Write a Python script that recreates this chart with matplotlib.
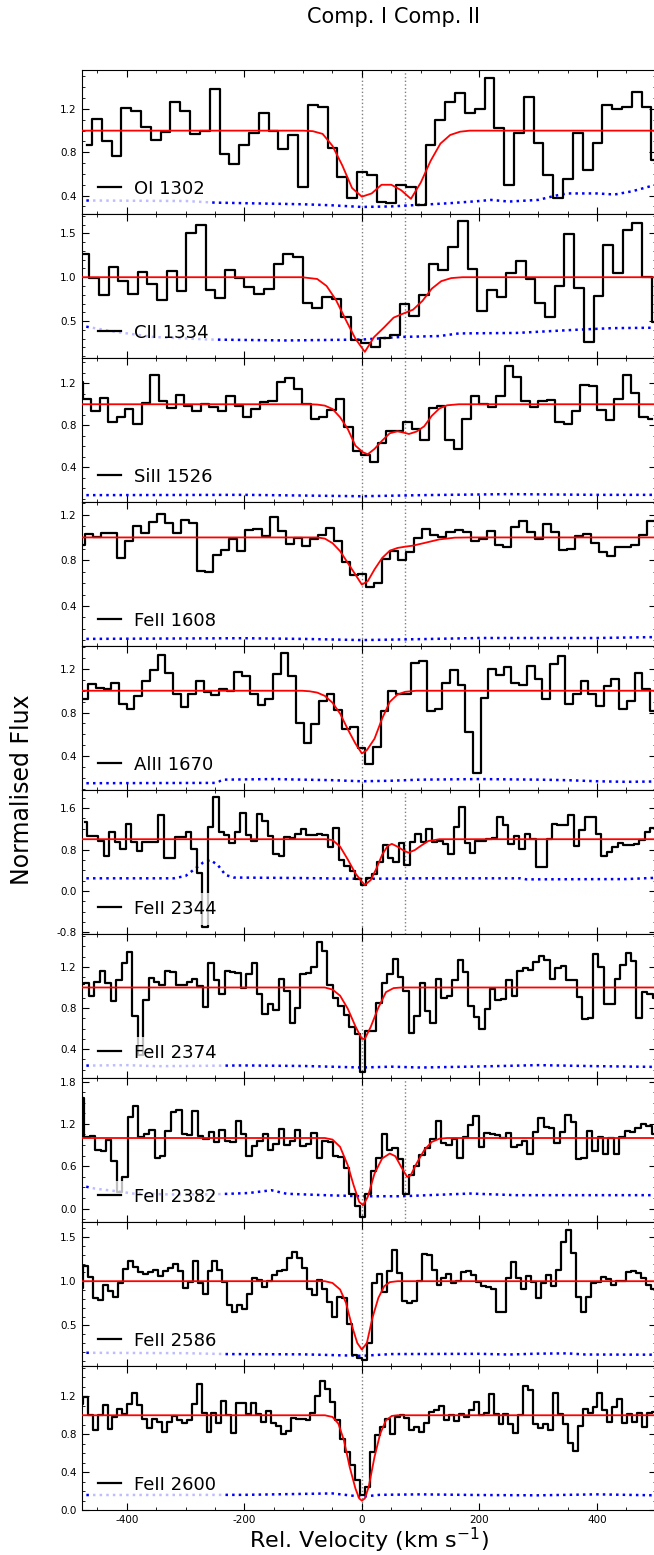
import numpy as np
import matplotlib.pyplot as plt
from matplotlib.ticker import MultipleLocator, AutoMinorLocator

plt.rcParams['axes.unicode_minus'] = False

# transition names, one per panel (top to bottom)
lines = ['OI 1302', 'CII 1334', 'SiII 1526', 'FeII 1608', 'AlII 1670',
         'FeII 2344', 'FeII 2374', 'FeII 2382', 'FeII 2586', 'FeII 2600']

# pixel grid: velocity of first pixel centre and pixel width (km/s)
pix_v0 = [-467.6, -472.0, -482.0, -478.5, -472.0, -471.7, -478.0, -485.8, -478.6, -479.0]
pix_dv = [16.7, 16.5, 14.35, 13.68, 13.09, 9.3, 9.22, 9.19, 8.47, 8.42]

# normalised flux
flux_oi1302 = [0.87, 1.11, 0.90, 0.77, 1.21, 1.18, 1.03, 0.91, 0.985, 1.26, 1.18, 0.97, 1.0, 1.38,
               0.78, 0.69, 0.87, 0.98, 1.16, 1.0, 0.83, 0.96, 0.48, 1.24, 1.22, 0.84, 0.57, 0.38,
               0.62, 0.59, 0.34, 0.33, 0.50, 0.48, 0.31, 0.87, 1.10, 1.26, 1.35, 1.16, 1.20, 1.49,
               1.02, 0.50, 0.98, 1.31, 0.89, 0.59, 0.38, 0.55, 0.98, 0.64, 0.89, 1.24, 1.20, 1.22,
               1.36, 1.22, 0.73]
flux_cii1334 = [1.27, 0.99, 0.80, 1.12, 0.955, 0.81, 1.06, 0.92, 0.74, 1.07, 0.84, 1.50, 1.60,
                0.86, 0.76, 1.08, 0.99, 0.89, 0.81, 0.87, 1.15, 1.27, 1.23, 0.71, 0.65, 0.78,
                0.75, 0.55, 0.28, 0.255, 0.205, 0.31, 0.34, 0.70, 0.555, 0.80, 1.155, 1.08, 1.34,
                1.64, 1.095, 0.62, 0.85, 0.78, 1.05, 1.18, 0.98, 0.71, 0.545, 0.90, 1.49, 0.875,
                0.26, 0.79, 1.37, 1.05, 1.54, 1.62, 1.0, 0.49]
flux_siii1526 = [1.216, 1.048, 0.936, 1.06, 0.835, 0.876, 0.955, 0.816, 1.016, 1.28, 1.03, 0.965,
                 1.09, 0.98, 0.936, 1.003, 0.97, 0.936, 1.076, 0.987, 0.876, 0.955, 1.02, 1.035,
                 1.21, 1.25, 1.146, 1.003, 0.86, 0.876, 0.946, 1.05, 0.784, 0.552, 0.517, 0.448,
                 0.632, 0.75, 0.75, 0.83, 0.76, 0.657, 0.965, 0.98, 0.66, 0.575, 0.86, 1.083,
                 1.003, 0.97, 1.076, 1.36, 1.26, 1.03, 0.97, 1.03, 1.044, 0.835, 0.81, 0.94,
                 1.187, 1.178, 0.946, 0.854, 1.05, 1.28, 1.11, 0.88, 0.86]
flux_feii1608 = [0.937, 1.033, 1.0, 1.04, 1.04, 0.82, 0.966, 1.097, 1.04, 1.135, 1.207, 1.13,
                 1.04, 1.15, 1.126, 0.71, 0.70, 0.85, 0.893, 0.99, 0.88, 1.068, 1.076, 1.015,
                 1.18, 1.06, 0.945, 0.995, 0.928, 0.99, 1.024, 1.08, 0.966, 0.783, 0.675, 0.68,
                 0.567, 0.60, 0.815, 0.878, 0.806, 0.873, 0.995, 1.073, 1.024, 1.0, 1.047, 1.068,
                 1.044, 0.97, 0.99, 1.056, 0.937, 0.916, 1.094, 1.14, 1.047, 0.99, 1.117, 1.047,
                 0.893, 0.90, 1.015, 1.03, 0.951, 0.873, 0.84, 0.913, 0.913, 0.937, 1.024, 1.14,
                 1.25]
flux_alii1670 = [0.92, 1.06, 1.026, 1.02, 1.075, 0.88, 0.837, 0.953, 1.087, 1.188, 1.33, 1.166,
                 0.974, 0.852, 0.968, 1.093, 0.99, 0.965, 1.02, 1.0, 1.172, 1.133, 0.974, 0.873,
                 0.928, 1.154, 1.347, 1.136, 0.705, 0.525, 0.696, 0.904, 0.971, 0.82, 0.653, 0.665,
                 0.476, 0.33, 0.482, 0.812, 1.0, 0.968, 0.968, 1.255, 1.27, 0.818, 0.837, 1.072,
                 1.188, 1.05, 0.623, 0.247, 0.934, 1.203, 1.148, 1.221, 1.075, 1.056, 1.23, 1.105,
                 0.928, 1.246, 1.316, 0.882, 0.974, 1.09, 0.974, 0.858, 1.04, 1.11, 0.83, 0.907,
                 1.163, 1.014, 0.812]
flux_feii2344 = [1.34, 1.06, 1.06, 0.965, 0.68, 1.14, 0.95, 0.81, 1.29, 0.946, 0.77, 0.946, 0.946,
                 0.946, 1.46, 0.64, 0.64, 1.05, 1.05, 1.13, 0.82, 0.34, -0.70, 1.23, 1.82, 1.145,
                 1.09, 0.92, 1.145, 1.51, 1.09, 0.965, 1.48, 1.36, 1.06, 0.714, 0.68, 1.05, 1.02,
                 1.11, 1.19, 1.09, 1.09, 1.10, 1.08, 0.84, 1.21, 0.60, 0.49, 0.386, 0.23, 0.116,
                 0.245, 0.32, 0.566, 0.88, 0.64, 0.566, 0.92, 0.50, 0.95, 1.11, 0.946, 1.19, 0.946,
                 0.965, 0.90, 0.714, 1.23, 1.615, 0.933, 0.74, 0.965, 0.97, 1.0, 1.02, 1.42, 1.27,
                 0.91, 1.06, 0.82, 1.11, 1.0, 0.47, 0.47, 1.0, 1.30, 1.28, 1.28, 1.47, 0.875, 1.18,
                 1.42, 1.42, 1.10, 0.68, 0.76, 0.855, 0.933, 0.89, 0.88, 0.90, 0.985, 1.145, 1.21]
flux_feii2374 = [1.03, 1.04, 0.913, 1.05, 1.165, 1.04, 0.865, 1.068, 1.235, 1.342, 0.723, 0.34,
                 0.874, 1.097, 1.058, 1.026, 1.165, 1.148, 1.02, 1.02, 1.05, 1.084, 1.01, 0.81,
                 1.235, 1.074, 0.932, 1.158, 1.148, 1.14, 0.994, 1.132, 1.24, 0.94, 0.74, 0.835,
                 0.784, 1.084, 0.97, 0.65, 0.80, 1.132, 1.142, 1.197, 1.445, 1.352, 1.02, 0.90,
                 0.82, 0.73, 0.62, 0.55, 0.18, 0.58, 0.58, 0.85, 1.04, 1.13, 1.28, 1.10, 0.97,
                 0.56, 0.72, 1.04, 0.77, 0.65, 1.084, 0.897, 0.92, 1.074, 1.27, 1.148, 0.816,
                 0.713, 0.60, 0.794, 0.987, 0.874, 0.89, 1.074, 0.913, 1.158, 1.187, 1.171, 1.245,
                 1.303, 1.268, 1.084, 1.19, 1.206, 1.074, 1.068, 0.906, 0.697, 0.706, 1.326, 1.197,
                 0.842, 0.835, 1.084, 1.222, 1.335, 1.255, 0.70, 0.96, 0.94, 0.90]
flux_feii2382 = [1.78, 1.56, 1.02, 1.03, 0.83, 0.81, 0.97, 0.68, 0.24, 0.45, 1.30, 1.45, 1.02,
                 1.05, 1.12, 0.71, 0.74, 1.10, 1.37, 1.40, 1.05, 1.04, 1.38, 1.03, 0.99, 1.08,
                 0.95, 1.12, 0.96, 0.95, 1.24, 1.06, 0.74, 0.88, 0.96, 1.05, 0.83, 0.92, 1.13,
                 0.90, 0.96, 1.12, 0.88, 0.92, 1.07, 0.72, 0.96, 0.95, 0.74, 0.73, 0.57, 0.20,
                 0.04, -0.12, 0.21, 0.53, 0.71, 1.06, 0.83, 0.86, 0.70, 0.21, 0.48, 0.60, 0.76,
                 0.86, 0.98, 1.24, 0.93, 0.90, 0.98, 0.72, 1.01, 1.19, 1.31, 0.87, 1.07, 1.06,
                 1.04, 1.00, 1.07, 0.87, 0.90, 0.96, 0.77, 1.08, 1.28, 1.15, 1.14, 0.93, 1.09,
                 1.32, 1.23, 0.70, 0.72, 1.10, 0.82, 1.01, 0.78, 1.0, 0.78, 1.01, 1.10, 1.08,
                 1.14, 1.20, 1.17, 1.05, 0.73]
flux_feii2586 = [0.925, 1.17, 1.045, 0.81, 0.79, 0.955, 0.894, 0.826, 0.974, 1.14, 1.234, 1.158,
                 1.106, 1.083, 1.10, 1.132, 1.057, 1.113, 1.15, 1.20, 1.113, 0.925, 0.989, 1.234,
                 0.98, 0.86, 1.12, 1.226, 1.132, 0.989, 0.728, 0.653, 0.728, 0.687, 0.86, 1.038,
                 1.011, 0.936, 1.0, 1.075, 1.113, 1.125, 1.264, 1.328, 1.264, 1.15, 0.917, 0.849,
                 1.011, 0.913, 0.766, 0.592, 0.819, 0.81, 0.51, 0.17, 0.125, 0.113, 0.30, 0.98,
                 1.083, 0.879, 1.12, 1.358, 1.094, 0.774, 0.755, 0.781, 1.0, 1.31, 1.302, 1.132,
                 0.962, 1.038, 1.087, 0.98, 1.0, 1.106, 1.12, 1.075, 0.992, 0.943, 0.932, 0.906,
                 0.649, 0.649, 1.038, 1.219, 1.038, 0.913, 1.057, 0.989, 0.81, 0.98, 1.068, 0.951,
                 1.132, 1.445, 1.585, 1.32, 0.819, 0.649, 0.819, 0.98, 0.992, 1.049, 1.026, 0.962,
                 1.0, 1.0, 1.106, 1.113, 1.094, 1.038, 0.962, 0.917, 0.879]
flux_feii2600 = [1.116, 1.193, 1.007, 0.842, 1.007, 1.105, 0.853, 0.982, 1.063, 1.01, 1.123, 1.235,
                 1.105, 0.965, 0.87, 0.958, 0.93, 0.825, 0.93, 0.99, 0.954, 0.919, 0.954, 1.116,
                 1.326, 1.028, 0.825, 1.028, 0.919, 1.15, 1.007, 0.818, 1.13, 1.13, 1.018, 1.13,
                 1.018, 0.93, 1.042, 0.919, 0.884, 0.807, 0.835, 0.972, 0.961, 0.965, 0.954, 1.025,
                 1.20, 1.36, 1.28, 1.14, 0.947, 0.754, 0.614, 0.474, 0.316, 0.158, 0.246, 0.614,
                 0.79, 0.877, 0.965, 0.807, 0.982, 1.0, 0.972, 0.842, 0.877, 0.825, 0.919, 1.035,
                 1.06, 1.095, 0.947, 1.007, 0.937, 1.018, 0.982, 1.06, 1.14, 1.007, 1.028, 1.228,
                 1.018, 0.912, 1.018, 0.912, 0.814, 1.007, 1.305, 1.263, 0.912, 0.87, 0.912, 0.849,
                 1.235, 1.018, 0.912, 0.709, 0.621, 0.884, 1.07, 1.028, 1.088, 1.235, 1.053, 0.93,
                 1.088, 1.168, 0.919, 1.018, 0.93, 1.025, 0.877, 1.025, 1.035]

flux = [flux_oi1302, flux_cii1334, flux_siii1526, flux_feii1608, flux_alii1670,
        flux_feii2344, flux_feii2374, flux_feii2382, flux_feii2586, flux_feii2600]

# fitted model profiles (velocity, flux)
model_v = [
    [-480, -100, -83.5, -66.8, -50.1, -33.4, -16.7, 0, 16.7, 33.4, 50.1, 66.8, 83.5, 100.2, 116.9, 133.6, 150.3, 167, 183.7, 500],
    [-480, -102, -76, -60, -44, -27, -11, 5, 21, 38, 54, 70, 87, 103, 119, 135, 152, 171, 500],
    [-480, -89, -76, -63, -50, -37, -24, -11, 2, 10, 21.5, 34.5, 47.5, 60.6, 73.6, 80, 93, 106, 119, 132, 145, 165, 500],
    [-480, -76, -63, -50, -37, -24, -11, 0, 10, 21.5, 34.5, 47.5, 60.6, 73.6, 86.6, 106, 132, 158, 184, 500],
    [-480, -102, -89, -76, -63, -50, -37, -24, -11, 0, 8.5, 21.5, 34.5, 47.5, 60.6, 73.6, 93, 500],
    [-480, -63, -50, -37, -24, -11, 0, 5, 15, 25, 34.5, 44, 51, 60.6, 70, 79, 90, 100, 113, 132, 500],
    [-480, -63, -50, -37, -24, -11, 0, 5, 15, 28, 41, 54, 67, 500],
    [-480, -63, -50, -37, -24, -14, -4.6, 2, 10, 21.5, 34.5, 47.5, 57, 67, 77, 83, 93, 106, 119, 132, 145, 500],
    [-480, -76, -63, -50, -37, -27, -17.6, -7.8, 0, 8.5, 18, 28, 38, 47.5, 60.6, 500],
    [-480, -76, -63, -50, -40, -30.6, -20.8, -11, -4.6, 0, 5.2, 11.7, 21.5, 31.3, 41, 51, 60.6, 500],
]
model_f = [
    [1.0, 1.0, 0.995, 0.97, 0.86, 0.68, 0.47, 0.39, 0.42, 0.50, 0.50, 0.45, 0.37, 0.52, 0.72, 0.88, 0.96, 0.99, 1.0, 1.0],
    [1.0, 1.0, 0.98, 0.90, 0.74, 0.51, 0.30, 0.15, 0.32, 0.43, 0.54, 0.585, 0.63, 0.73, 0.87, 0.955, 0.99, 1.0, 1.0],
    [1.0, 1.0, 0.997, 0.987, 0.955, 0.876, 0.765, 0.606, 0.543, 0.524, 0.575, 0.654, 0.724, 0.743, 0.727, 0.717, 0.74, 0.79, 0.89, 0.96, 0.99, 1.0, 1.0],
    [1.0, 1.0, 0.99, 0.95, 0.88, 0.777, 0.675, 0.587, 0.617, 0.72, 0.82, 0.884, 0.908, 0.919, 0.928, 0.951, 0.983, 0.998, 1.0, 1.0],
    [1.0, 1.0, 0.995, 0.983, 0.953, 0.89, 0.79, 0.647, 0.516, 0.425, 0.455, 0.56, 0.745, 0.898, 0.965, 0.99, 1.0, 1.0],
    [1.0, 1.0, 0.985, 0.856, 0.61, 0.34, 0.18, 0.116, 0.21, 0.44, 0.70, 0.87, 0.91, 0.856, 0.79, 0.74, 0.79, 0.87, 0.965, 1.0, 1.0],
    [1.0, 1.0, 0.98, 0.92, 0.794, 0.623, 0.50, 0.50, 0.616, 0.803, 0.955, 0.994, 1.0, 1.0],
    [1.0, 1.0, 0.978, 0.874, 0.614, 0.33, 0.095, 0.047, 0.165, 0.496, 0.71, 0.78, 0.742, 0.59, 0.449, 0.47, 0.638, 0.827, 0.945, 0.99, 1.0, 1.0],
    [1.0, 1.0, 1.0, 0.98, 0.906, 0.755, 0.51, 0.30, 0.226, 0.30, 0.585, 0.81, 0.943, 0.989, 1.0, 1.0],
    [1.0, 1.0, 1.0, 0.982, 0.912, 0.737, 0.456, 0.228, 0.123, 0.098, 0.123, 0.246, 0.56, 0.807, 0.947, 0.993, 1.0, 1.0],
]

# error spectrum (velocity, sigma)
err_v = [
    [-480, -300, -250, -150, -100, -50, 0, 50, 100, 150, 200, 220, 250, 300, 330, 350, 400, 430, 460, 500],
    [-480, -421, -356, -258, -128, 0, 67, 132, 165, 262, 360, 425, 502],
    [-480, -200, 0, 100, 250, 400, 500],
    [-480, -200, -100, 0, 100, 200, 400, 500],
    [-480, -250, -235, -150, -50, 0, 50, 100, 200, 300, 350, 400, 450, 500],
    [-480, -320, -300, -285, -270, -258, -245, -232, -218, -100, 0, 100, 270, 280, 450, 500],
    [-480, -400, -350, -200, -100, 0, 50, 100, 200, 300, 400, 500],
    [-480, -454, -421, -389, -324, -259, -193, -154, -128, -63, 0, 67, 184, 262, 500],
    [-480, -300, -230, -100, 0, 50, 200, 250, 300, 350, 380, 500],
    [-480, -200, -100, -50, 0, 30, 100, 200, 300, 400, 500],
]
err_f = [
    [0.355, 0.35, 0.335, 0.325, 0.32, 0.31, 0.295, 0.30, 0.315, 0.33, 0.35, 0.36, 0.345, 0.36, 0.40, 0.42, 0.42, 0.41, 0.44, 0.50],
    [0.45, 0.38, 0.32, 0.29, 0.28, 0.29, 0.32, 0.33, 0.36, 0.365, 0.40, 0.42, 0.425],
    [0.135, 0.138, 0.125, 0.135, 0.145, 0.138, 0.138],
    [0.112, 0.118, 0.112, 0.102, 0.11, 0.12, 0.12, 0.128],
    [0.152, 0.155, 0.185, 0.19, 0.18, 0.17, 0.175, 0.185, 0.19, 0.185, 0.18, 0.17, 0.165, 0.168],
    [0.245, 0.245, 0.29, 0.42, 0.55, 0.60, 0.50, 0.31, 0.26, 0.25, 0.235, 0.245, 0.245, 0.225, 0.23, 0.255],
    [0.24, 0.245, 0.235, 0.242, 0.237, 0.222, 0.23, 0.222, 0.232, 0.245, 0.235, 0.228],
    [0.33, 0.283, 0.25, 0.213, 0.20, 0.20, 0.22, 0.26, 0.21, 0.19, 0.175, 0.175, 0.213, 0.19, 0.19],
    [0.19, 0.185, 0.175, 0.172, 0.155, 0.175, 0.178, 0.17, 0.18, 0.183, 0.17, 0.168],
    [0.158, 0.16, 0.17, 0.175, 0.14, 0.16, 0.165, 0.158, 0.155, 0.165, 0.155],
]

ylims = [(0.23, 1.56), (0.08, 1.72), (0.07, 1.44), (0.05, 1.31), (0.09, 1.41),
         (-0.83, 1.95), (0.12, 1.52), (-0.19, 1.85), (0.04, 1.67), (0.0, 1.52)]
ystep = [0.4, 0.5, 0.4, 0.4, 0.4, 0.8, 0.4, 0.6, 0.5, 0.4]
two_comp = [True, True, True, True, False, True, False, True, False, False]
comp_v = [0, 73]

W, H = 654, 1555
fig = plt.figure(figsize=(W / 100, H / 100), dpi=100)

left = 81.5 / W
width = (362 + 500 * 0.5875 - 81.5) / W
top_px, panel_px = 70, 144

axes = []
for i, name in enumerate(lines):
    bottom = (H - (top_px + panel_px * (i + 1))) / H
    ax = fig.add_axes([left, bottom, width, panel_px / H])
    axes.append(ax)

    v = pix_v0[i] + pix_dv[i] * np.arange(len(flux[i]))
    st, = ax.step(v, flux[i], where='mid', color='black', lw=1.6, label=name, zorder=3)
    ax.plot(model_v[i], model_f[i], color='red', lw=1.3, zorder=4)
    ax.plot(err_v[i], err_f[i], color='blue', ls=':', lw=1.8, zorder=2)

    ax.axvline(comp_v[0], color='grey', ls=':', lw=1.0, zorder=1)
    if two_comp[i]:
        ax.axvline(comp_v[1], color='grey', ls=':', lw=1.0, zorder=1)

    ax.set_xlim(-477, 500)
    ax.set_ylim(*ylims[i])
    ax.xaxis.set_major_locator(MultipleLocator(200))
    ax.xaxis.set_minor_locator(MultipleLocator(50))
    ax.yaxis.set_major_locator(MultipleLocator(ystep[i]))
    ax.yaxis.set_minor_locator(AutoMinorLocator())
    ax.tick_params(which='both', direction='in', top=True, right=True, labelsize=7.5)
    ax.tick_params(which='major', length=5)
    ax.tick_params(which='minor', length=2.5)
    if i < len(lines) - 1:
        ax.tick_params(labelbottom=False)

    leg = ax.legend(handles=[st], loc='lower left', fontsize=13, frameon=True,
                    framealpha=0.75, edgecolor='none', facecolor='white',
                    handlelength=1.3, handletextpad=0.7, borderaxespad=0.5)

axes[-1].set_xlabel(r'Rel. Velocity (km s$^{-1}$)', fontsize=16, labelpad=1)
fig.text(22 / W, 1 - 790 / H, 'Normalised Flux', rotation=90, fontsize=17,
         ha='center', va='center')
fig.text(387 / W, 1 - 17 / H, 'Comp. I', fontsize=15, ha='right', va='center')
fig.text(394 / W, 1 - 17 / H, 'Comp. II', fontsize=15, ha='left', va='center')

fig.savefig('out.png', dpi=100)
